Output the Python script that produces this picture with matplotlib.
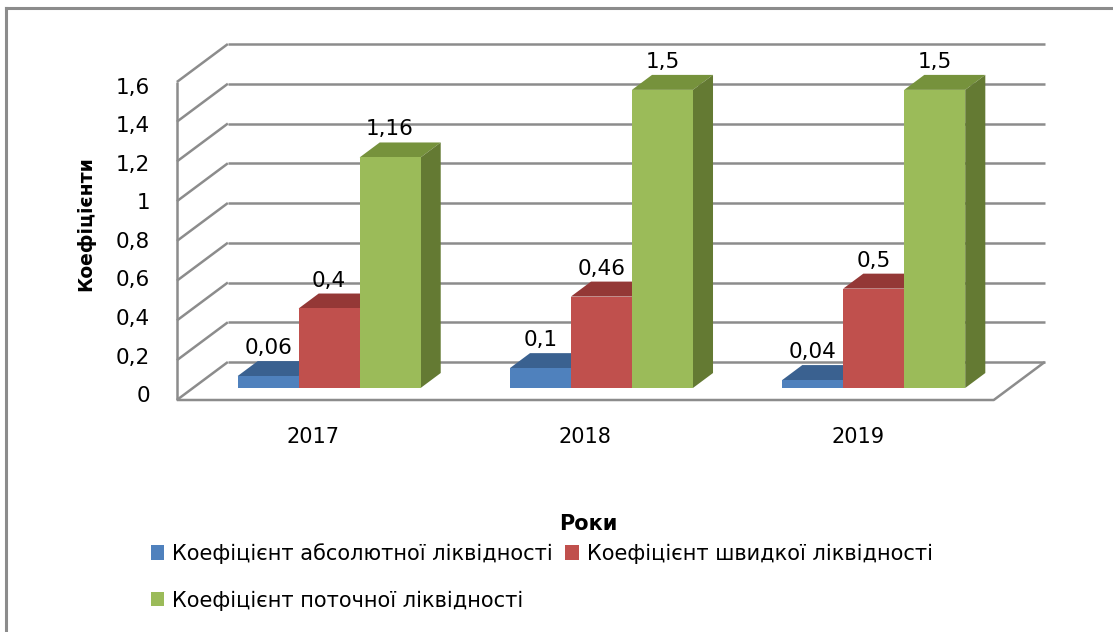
import matplotlib
matplotlib.use("Agg")
import matplotlib.pyplot as plt
from matplotlib.patches import Polygon, Patch
from matplotlib.lines import Line2D

# ---------------- data ----------------
years = ["2017", "2018", "2019"]
series_names = ["Коефіцієнт абсолютної ліквідності",
                "Коефіцієнт швидкої ліквідності",
                "Коефіцієнт поточної ліквідності"]
abs_liq = [0.06, 0.1, 0.04]
quick_liq = [0.4, 0.46, 0.5]
current_liq = [1.16, 1.5, 1.5]
y_ticks = [0, 0.2, 0.4, 0.6, 0.8, 1, 1.2, 1.4, 1.6]
y_tick_labels = ["0", "0,2", "0,4", "0,6", "0,8", "1", "1,2", "1,4", "1,6"]
data_labels = [["0,06", "0,1", "0,04"],
               ["0,4", "0,46", "0,5"],
               ["1,16", "1,5", "1,5"]]
series_values = [abs_liq, quick_liq, current_liq]

# ---------------- style ----------------
FONT = ["DejaVu Sans"]
front_cols = ["#4F81BD", "#C0504D", "#9BBB59"]
top_cols = ["#3A6190", "#943836", "#76923C"]
side_cols = ["#2F4F78", "#7E2E2C", "#647A33"]
grid_col = "#8C8C8C"

W, H, DPI = 1113, 632, 100
fig = plt.figure(figsize=(W / DPI, H / DPI), dpi=DPI)
ax = fig.add_axes([0, 0, 1, 1])
ax.axis("off")

# scale: px per x unit / y unit, origin (front floor, category 0)
PX_X, PX_Y = 272.3, 198.75
X0_PX, Y0_PX = 313.0, 400.0
ax.set_xlim(-X0_PX / PX_X, (W - X0_PX) / PX_X)
ax.set_ylim(-(H - Y0_PX) / PX_Y, Y0_PX / PX_Y)

DX, DY = 51 / PX_X, 38 / PX_Y          # full depth offset
ymax = y_ticks[-1]
xl, xr = -0.5, len(years) - 0.5

# walls / floor gridlines
gkw = dict(color=grid_col, lw=1.8, solid_capstyle="butt", zorder=1)
for v in y_ticks:
    ax.add_line(Line2D([xl + DX, xr + DX], [v + DY, v + DY], **gkw))
    ax.add_line(Line2D([xl, xl + DX], [v, v + DY], **gkw))
ax.add_line(Line2D([xl, xl], [0, ymax], **gkw))
ax.add_line(Line2D([xl, xr, xr + DX], [0, 0, DY], **gkw))

# bars
bw = 61 / PX_X
d0, d1 = 0.316, 0.71
for gi in range(len(years)):
    for si, vals in enumerate(series_values):
        v = vals[gi]
        x_front = gi - 1.5 * bw + si * bw + d0 * DX
        yb = d0 * DY
        ox, oy = (d1 - d0) * DX, (d1 - d0) * DY
        x1 = x_front + bw
        z = 5 + gi * 3 + si
        top = [(x_front, yb + v), (x1, yb + v), (x1 + ox, yb + v + oy), (x_front + ox, yb + v + oy)]
        side = [(x1, yb), (x1 + ox, yb + oy), (x1 + ox, yb + v + oy), (x1, yb + v)]
        front = [(x_front, yb), (x1, yb), (x1, yb + v), (x_front, yb + v)]
        ax.add_patch(Polygon(top, closed=True, fc=top_cols[si], ec="none", zorder=z))
        ax.add_patch(Polygon(side, closed=True, fc=side_cols[si], ec="none", zorder=z))
        ax.add_patch(Polygon(front, closed=True, fc=front_cols[si], ec="none", zorder=z + 0.5))
        ax.text(x_front + bw / 2, yb + v + oy + 3 / PX_Y, data_labels[si][gi],
                ha="center", va="bottom", fontsize=15.5, family=FONT, zorder=30)

# y tick labels
for v, lab in zip(y_ticks, y_tick_labels):
    ax.text(xl - 27 / PX_X, 0.0201 + 0.9686 * v, lab, ha="right", va="center",
            fontsize=15.5, family=FONT)

# category labels
for gi, yr in enumerate(years):
    ax.text(gi, -37 / PX_Y, yr, ha="center", va="center", fontsize=15, family=FONT)

# axis titles
ax.text((86 - X0_PX) / PX_X, (400 - 224) / PX_Y, "Коефіцієнти", rotation=90, ha="center",
        va="center", fontsize=13.5, fontweight="bold", family=FONT)
ax.text((588 - X0_PX) / PX_X, (400 - 524) / PX_Y, "Роки", ha="center", va="center",
        fontsize=15, fontweight="bold", family=FONT)

# legend
handles = [Patch(fc=front_cols[0], ec="none"), Patch(fc=front_cols[2], ec="none"),
           Patch(fc=front_cols[1], ec="none")]
labels = [series_names[0], series_names[2], series_names[1]]
leg = fig.legend(handles, labels, ncol=2, loc="upper left",
                 bbox_to_anchor=(150.5 / W, 1 - 543 / H), frameon=False,
                 prop=dict(family=FONT, size=15), handlelength=0.67, handleheight=0.67,
                 handletextpad=0.37, columnspacing=0.58, labelspacing=1.28,
                 borderpad=0, borderaxespad=0)

# outer frame (top and left edges visible)
fig.add_artist(Line2D([6 / W, 1], [1 - 8 / H, 1 - 8 / H], color="#8C8C8C", lw=2.2,
                      transform=fig.transFigure))
fig.add_artist(Line2D([6 / W, 6 / W], [0, 1 - 8 / H], color="#8C8C8C", lw=2.2,
                      transform=fig.transFigure))

fig.savefig("out.png", dpi=DPI, facecolor="white")
